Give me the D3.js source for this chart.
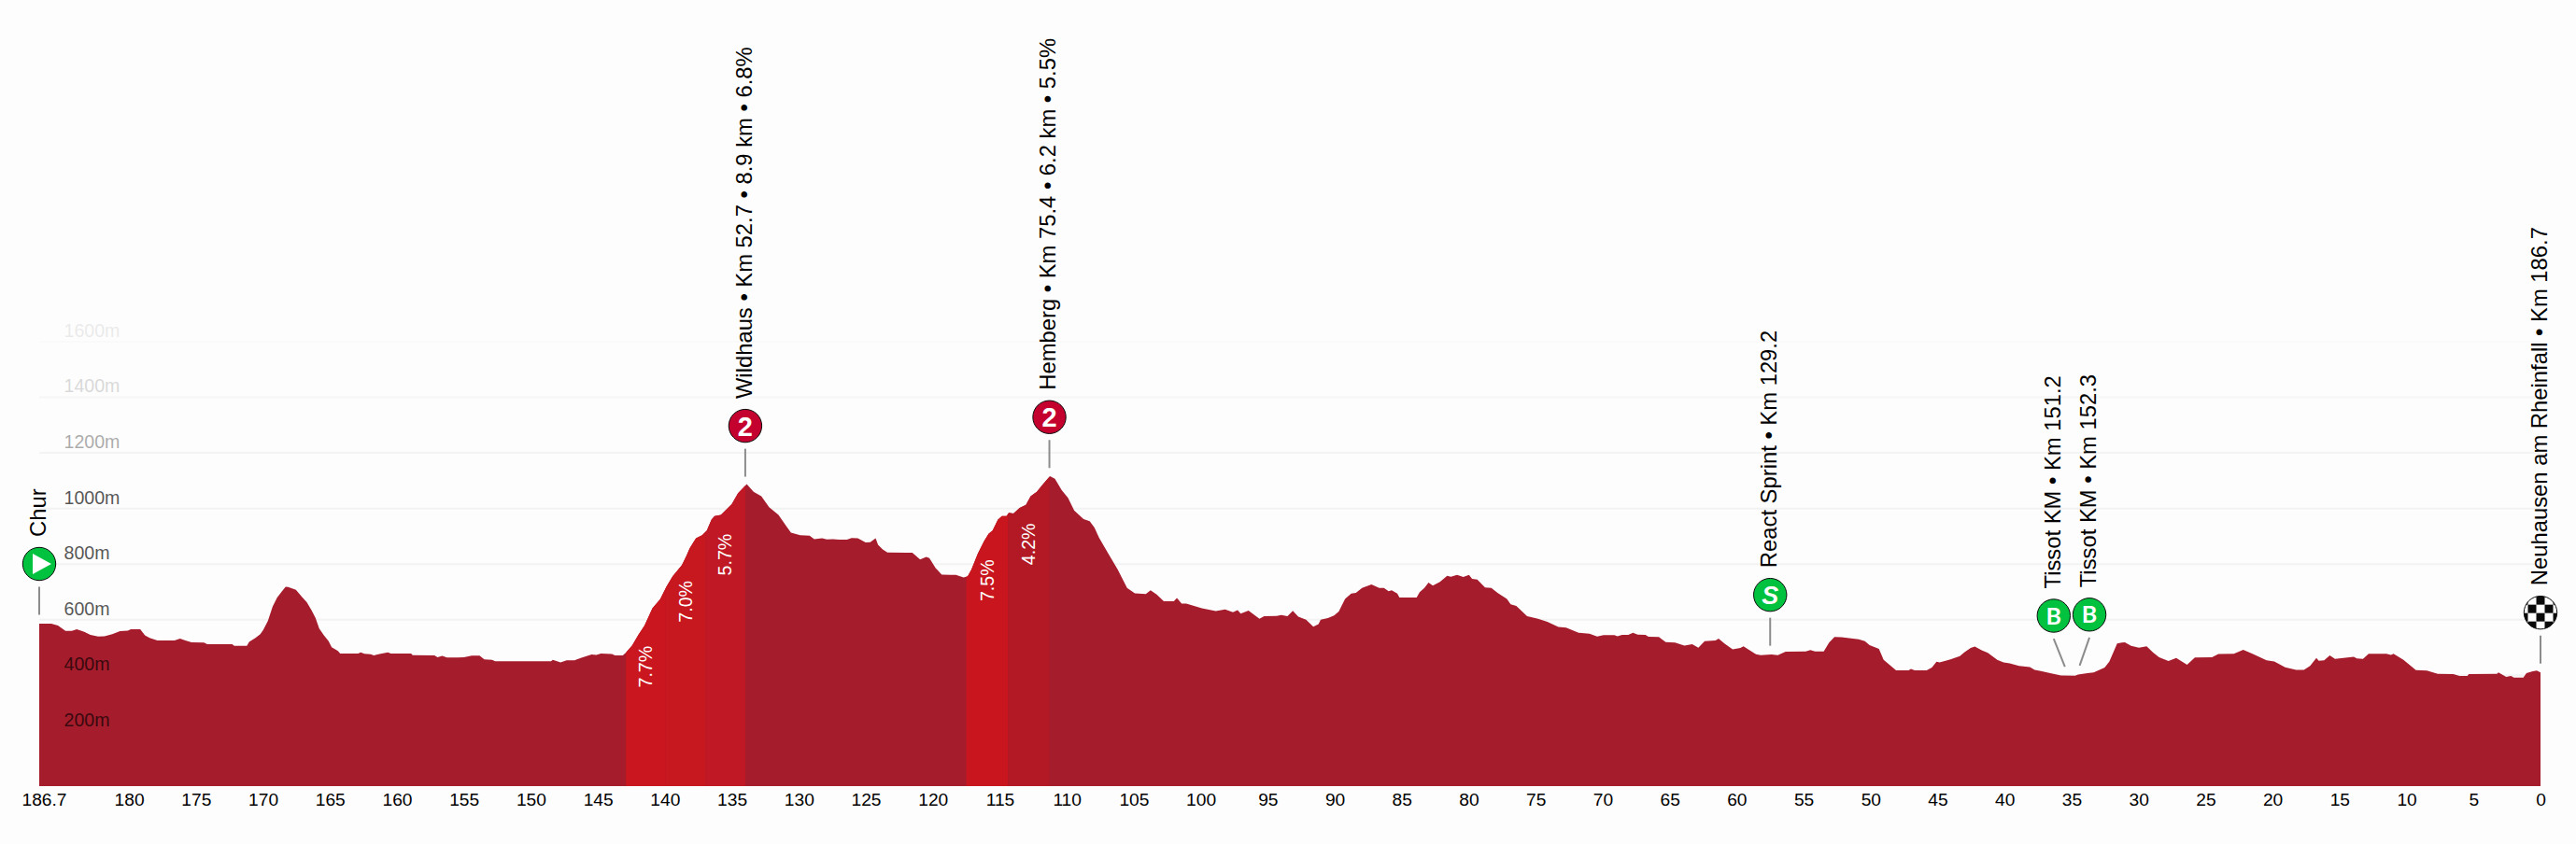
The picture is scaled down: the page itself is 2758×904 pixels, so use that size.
<!DOCTYPE html>
<html lang="en">
  <head>
    <meta charset="UTF-8" />
    <title>Stage profile Chur - Neuhausen am Rheinfall</title>
    <script src="https://d3js.org/d3.v7.min.js"></script>
    <style>
      body {
        margin: 0;
        background: #fdfdfd;
      }

      svg text {
        font-family: "Liberation Sans", Arial, sans-serif;
      }

      .tick-x text {
        font-size: 19.2px;
        fill: #000;
      }

      .grid line {
        stroke: #f2f2f2;
        stroke-width: 2px;
      }

      .grid-labels text {
        font-size: 19.6px;
        fill: #000;
      }

      .place {
        font-size: 23.8px;
        fill: #000;
      }

      .grade {
        font-size: 19.6px;
        fill: #fff;
      }

      .stem {
        stroke: #8c8c8c;
        stroke-width: 2px;
      }

      .badge {
        stroke: #0a0a0a;
        stroke-width: 1px;
      }
    </style>
  </head>
  <body>
    <svg id="chart" width="2758" height="904"></svg>

    <script>
      // profile: km to go / metres
      const kmToGo = [
        186.7, 185.8, 185.3, 184.74, 184.27, 183.9, 183.34, 182.88, 182.3, 181.83, 181.25, 180.67, 180.09, 179.86, 179.16,
        178.81, 178.46, 177.88, 176.6, 176.19, 175.79, 175.33, 174.4, 174.16, 172.3, 172.14, 171.2, 171.03, 170.56, 170.2,
        169.98, 169.63, 169.28, 168.94, 168.59, 168.31, 168.12, 167.54, 167.08, 166.73, 166.38, 166.08, 165.8, 165.45, 165.1,
        164.87, 164.4, 164.24, 162.9, 162.7, 162.43, 161.96, 161.73, 161.38, 160.68, 160.45, 158.94, 158.83, 157.2, 156.97,
        156.62, 156.27, 155.46, 155.0, 154.41, 153.83, 153.48, 152.9, 152.67, 148.49, 148.37, 147.79, 147.33, 146.75, 146.28,
        145.47, 145.12, 144.77, 143.96, 143.72, 143.14, 142.91, 142.45, 141.98, 141.52, 140.93, 140.35, 139.89, 139.42, 138.73,
        138.38, 138.15, 137.68, 137.22, 136.87, 136.52, 136.29, 135.82, 135.01, 134.54, 133.89, 133.38, 132.8, 132.22, 131.52,
        130.94, 130.59, 129.9, 129.2, 128.85, 128.27, 127.92, 127.46, 126.99, 126.41, 126.06, 125.6, 125.02, 124.67, 124.27,
        124.09, 123.74, 123.39, 122.0, 121.53, 120.95, 120.49, 120.26, 119.79, 119.33, 118.28, 117.7, 117.4, 117.12, 116.65,
        116.19, 115.84, 115.54, 115.14, 114.84, 114.5, 114.33, 113.98, 113.52, 113.05, 112.7, 112.24, 111.77, 111.26, 110.89,
        110.38, 109.91, 109.45, 108.75, 108.29, 107.94, 107.59, 106.89, 106.2, 105.5, 104.92, 104.1, 103.75, 103.29, 102.76,
        102.01, 101.78, 101.43, 101.08, 99.92, 98.88, 98.18, 97.6, 97.25, 97.02, 96.44, 95.62, 95.27, 94.34, 93.99,
        93.53, 93.13, 92.72, 92.14, 91.6, 91.21, 91.05, 90.51, 90.05, 89.7, 89.23, 88.77, 88.42, 87.96, 87.26,
        86.68, 86.33, 85.98, 85.75, 85.33, 85.17, 83.89, 83.66, 83.31, 83.0, 82.68, 82.15, 81.61, 81.33, 80.87,
        80.4, 79.98, 79.75, 79.36, 78.78, 78.31, 77.85, 77.15, 76.87, 76.45, 75.64, 74.83, 74.13, 73.31, 72.73,
        71.8, 70.99, 70.41, 69.94, 69.13, 68.9, 68.55, 68.09, 67.74, 67.39, 66.81, 66.58, 65.81, 65.3, 64.6,
        63.9, 63.32, 62.86, 62.39, 61.58, 61.35, 60.89, 60.3, 59.72, 59.49, 59.14, 58.56, 58.21, 57.4, 56.93,
        56.35, 54.84, 54.5, 54.15, 53.5, 53.1, 52.7, 52.17, 50.89, 50.43, 50.08, 49.38, 49.03, 48.1, 47.17,
        46.99, 46.71, 45.82, 45.43, 45.08, 44.85, 44.04, 43.34, 42.99, 42.53, 42.22, 41.71, 41.25, 40.55, 40.08,
        39.62, 38.92, 38.11, 37.76, 37.3, 36.6, 35.79, 34.74, 34.51, 33.81, 33.35, 32.53, 32.18, 31.6, 31.25,
        31.02, 30.56, 29.98, 29.4, 28.93, 28.47, 27.77, 27.19, 26.38, 25.8, 24.52, 24.05, 22.89, 22.19, 21.5,
        20.45, 19.87, 19.06, 18.24, 17.66, 17.2, 16.73, 16.55, 16.15, 15.73, 15.34, 13.94, 13.71, 13.25, 12.83,
        11.5, 11.16, 10.97, 10.23, 9.3, 8.48, 7.67, 6.51, 6.04, 5.46, 5.35, 3.25, 3.14, 2.56, 2.21,
        1.98, 1.28, 1.05, 0.58, 0.28, 0,
      ];
      const elevation = [
        586, 586, 579, 560, 560, 566, 557, 546, 540, 541, 548, 559, 561, 566, 566,
        544, 535, 526, 526, 532, 526, 519, 518, 512, 512, 506, 506, 521, 535, 548,
        563, 596, 647, 680, 702, 719, 718, 708, 682, 663, 635, 607, 568, 544, 523,
        501, 488, 479, 479, 483, 478, 476, 472, 476, 483, 479, 479, 473, 472, 465,
        470, 464, 464, 465, 471, 471, 458, 456, 451, 451, 456, 447, 454, 454, 463,
        475, 474, 479, 477, 472, 472, 482, 507, 546, 579, 641, 674, 719, 756, 797,
        831, 857, 893, 904, 921, 960, 973, 977, 1016, 1055, 1088, 1060, 1044, 1005, 977,
        937, 913, 904, 902, 890, 893, 889, 890, 888, 888, 894, 893, 878, 879, 893,
        870, 853, 842, 841, 841, 817, 826, 822, 786, 762, 761, 752, 756, 781, 837,
        881, 909, 921, 960, 973, 973, 985, 982, 1002, 1013, 1044, 1060, 1088, 1116, 1107,
        1066, 1038, 993, 962, 954, 932, 895, 837, 781, 714, 695, 693, 706, 691, 667,
        667, 678, 658, 658, 641, 631, 637, 627, 635, 622, 633, 604, 613, 614, 617,
        613, 632, 611, 600, 575, 584, 600, 606, 615, 630, 675, 694, 697, 714, 727,
        714, 714, 703, 706, 694, 680, 680, 699, 714, 734, 723, 736, 758, 755, 761,
        754, 761, 747, 745, 716, 714, 697, 675, 656, 650, 613, 604, 593, 574, 572,
        553, 550, 540, 545, 545, 541, 546, 546, 553, 547, 546, 539, 538, 520, 518,
        507, 512, 500, 523, 526, 532, 514, 494, 499, 505, 494, 476, 473, 475, 473,
        485, 486, 491, 486, 486, 518, 538, 537, 530, 523, 509, 495, 456, 418, 418,
        423, 418, 418, 428, 449, 447, 458, 469, 484, 499, 504, 490, 481, 456, 447,
        443, 434, 430, 420, 416, 408, 400, 399, 403, 408, 411, 428, 450, 515, 518,
        519, 506, 500, 505, 483, 465, 452, 463, 438, 464, 465, 477, 478, 492, 478,
        454, 450, 429, 420, 420, 434, 463, 453, 454, 472, 459, 467, 461, 459, 478,
        478, 474, 478, 456, 419, 417, 406, 405, 398, 398, 405, 406, 411, 395, 398,
        392, 392, 408, 415, 417, 411,
      ];

      const kmTickValues = [186.7, 180, 175, 170, 165, 160, 155, 150, 145, 140, 135, 130, 125, 120, 115, 110, 105, 100, 95, 90, 85, 80, 75, 70, 65, 60, 55, 50, 45, 40, 35, 30, 25, 20, 15, 10, 5, 0];
      const altitudeTicks = [200, 400, 600, 800, 1000, 1200, 1400, 1600];

      // steep sectors of the two climbs
      const sectorFrom = [142.9, 139.93, 136.97, 117.5, 114.4];
      const sectorTo = [139.93, 136.97, 134.0, 114.4, 111.3];
      const sectorGrade = [7.7, 7.0, 5.7, 7.5, 4.2];

      const placeKm = [0, 52.7, 75.4, 129.2, 151.2, 152.3, 186.7];
      const placeKind = ["start", "climb", "climb", "sprint", "bonus", "bonus", "finish"];
      const placeLabel = [
        "Chur",
        "Wildhaus • Km 52.7 • 8.9 km • 6.8%",
        "Hemberg • Km 75.4 • 6.2 km • 5.5%",
        "React Sprint • Km 129.2",
        "Tissot KM • Km 151.2",
        "Tissot KM • Km 152.3",
        "Neuhausen am Rheinfall • Km 186.7",
      ];

      const totalKm = 186.7;
      const svg = d3.select("#chart");
      const profile = kmToGo.map((km, i) => ({ km, ele: elevation[i] }));

      const x = d3.scaleLinear().domain([totalKm, 0]).range([42, 2720]);
      const y = d3.scaleLinear().domain([0, 1600]).range([842.6, 365.9]);
      const elevationAt = d3.scaleLinear().domain(kmToGo).range(elevation);
      const baseY = 842;

      // labels and grid die away towards the top of the chart
      const tickFade = d3.scaleLinear().domain([1000, 1200, 1400, 1600]).range([0.66, 0.32, 0.14, 0.07]).clamp(true);
      const lineFade = d3.scaleLinear().domain([1000, 1400, 1600]).range([1, 0.6, 0.25]).clamp(true);

      // Grid goes under the area, its labels on top
      svg
        .append("g")
        .attr("class", "grid")
        .selectAll("line")
        .data(altitudeTicks)
        .enter()
        .append("line")
        .attr("x1", x(totalKm))
        .attr("x2", x(0))
        .attr("y1", (d) => y(d))
        .attr("y2", (d) => y(d))
        .attr("opacity", (d) => lineFade(d));

      const area = d3
        .area()
        .x((d) => x(d.km))
        .y0(baseY)
        .y1((d) => y(d.ele));

      svg.append("path").datum(profile).attr("d", area).attr("fill", "#a51c2c");

      svg.append("clipPath").attr("id", "under-profile").append("path").datum(profile).attr("d", area);

      const sectorColor = d3.scaleLinear().domain([4.2, 5.7, 7.0, 7.7]).range(["#b31924", "#c01824", "#c7171f", "#ca161e"]);

      const sectors = sectorGrade.map((grade, i) => ({ grade, from: sectorFrom[i], to: sectorTo[i] }));

      svg
        .append("g")
        .attr("clip-path", "url(#under-profile)")
        .selectAll("rect")
        .data(sectors)
        .enter()
        .append("rect")
        .attr("x", (d) => x(d.from))
        .attr("y", y(1200))
        .attr("width", (d) => x(d.to) - x(d.from))
        .attr("height", baseY - y(1200))
        .attr("fill", (d) => sectorColor(d.grade));

      svg
        .selectAll(".grade")
        .data(sectors)
        .enter()
        .append("text")
        .attr("class", "grade")
        .attr("text-anchor", "end")
        .attr("dy", "0.35em")
        .attr("transform", (d) => {
          const mid = (d.from + d.to) / 2;
          return `translate(${x(mid)},${y(elevationAt(mid)) + 25}) rotate(-90)`;
        })
        .text((d) => d.grade.toFixed(1) + "%");

      svg
        .append("g")
        .attr("class", "grid-labels")
        .selectAll("text")
        .data(altitudeTicks)
        .enter()
        .append("text")
        .attr("x", 68.5)
        .attr("y", (d) => y(d) - 5)
        .attr("opacity", (d) => tickFade(d))
        .text((d) => d + "m");

      // km axis
      const axisX = svg
        .append("g")
        .attr("class", "tick-x")
        .attr("transform", `translate(0,${baseY})`)
        .call(
          d3
            .axisBottom(x)
            .tickValues(kmTickValues)
            .tickSize(0)
            .tickPadding(0)
            .tickFormat((d) => String(d))
        );
      axisX.select(".domain").remove();
      axisX.selectAll("text").attr("dy", null).attr("y", 20.5);
      axisX.attr("font-family", null).attr("font-size", null);
      axisX.selectAll(".tick").filter((d) => d === totalKm).select("text").attr("dx", 5);

      // Route markers. The two close bonus sprints lean apart so the badges fit
      const badgeLean = { 151.2: -12, 152.3: 10.5 };
      const badgeFill = { start: "#00c23f", sprint: "#00c23f", bonus: "#00c23f", climb: "#c4002f", finish: "#fff" };
      const badgeGlyph = { climb: "2", sprint: "S", bonus: "B" };
      const badgeR = 17.7;

      const places = placeKm.map((km, i) => {
        const togo = totalKm - km;
        const lean = badgeLean[km] || 0;
        const tip = y(elevationAt(togo)) - 9.5;
        return {
          km,
          kind: placeKind[i],
          label: placeLabel[i],
          tipX: x(togo),
          tipY: tip,
          cx: x(togo) + lean,
          cy: tip - 54.5,
        };
      });

      svg.append("clipPath").attr("id", "finish-clip").append("circle").attr("r", badgeR);

      const place = svg.selectAll(".place-mark").data(places).enter().append("g").attr("class", "place-mark");

      place
        .append("line")
        .attr("class", "stem")
        .attr("x1", (d) => d.tipX)
        .attr("y1", (d) => d.tipY)
        .attr("x2", (d) => d.cx)
        .attr("y2", (d) => d.cy + 24.5);

      const badge = place.append("g").attr("transform", (d) => `translate(${d.cx},${d.cy})`);

      badge
        .append("circle")
        .attr("r", badgeR)
        .attr("fill", (d) => badgeFill[d.kind]);

      const glyphFont = { climb: "Liberation Sans", sprint: "Liberation Sans", bonus: "Lato" };
      const glyphSize = { climb: 29, sprint: 27, bonus: 25 };

      badge
        .filter((d) => badgeGlyph[d.kind])
        .append("text")
        .attr("text-anchor", "middle")
        .attr("dy", "0.36em")
        .attr("fill", "#fff")
        .style("font-family", (d) => glyphFont[d.kind])
        .attr("font-size", (d) => glyphSize[d.kind])
        .attr("font-weight", 700)
        .attr("font-style", (d) => (d.kind === "sprint" ? "italic" : null))
        .text((d) => badgeGlyph[d.kind]);

      badge
        .filter((d) => d.kind === "start")
        .append("path")
        .attr("d", d3.line()([[-7, -11], [13, 0], [-7, 11]]) + "Z")
        .attr("fill", "#fff");

      // chequered flag for the finish badge
      const checkerCells = d3.cross(d3.range(-2, 3), d3.range(0, 4)).filter(([c, r]) => (c + r + 2) % 2 === 0);
      badge
        .filter((d) => d.kind === "finish")
        .append("g")
        .attr("clip-path", "url(#finish-clip)")
        .selectAll("rect")
        .data(checkerCells)
        .enter()
        .append("rect")
        .attr("x", (d) => d[0] * 9 - 4.5)
        .attr("y", (d) => d[1] * 9 - 17.5)
        .attr("width", 9)
        .attr("height", 9)
        .attr("fill", "#0a0a0a");

      badge.append("circle").attr("class", "badge").attr("r", badgeR).attr("fill", "none");

      place
        .append("text")
        .attr("class", "place")
        .attr("dy", "0.35em")
        .attr("transform", (d) => `translate(${d.cx - 1.5},${d.cy - 29}) rotate(-90)`)
        .text((d) => d.label);
    </script>
  </body>
</html>
